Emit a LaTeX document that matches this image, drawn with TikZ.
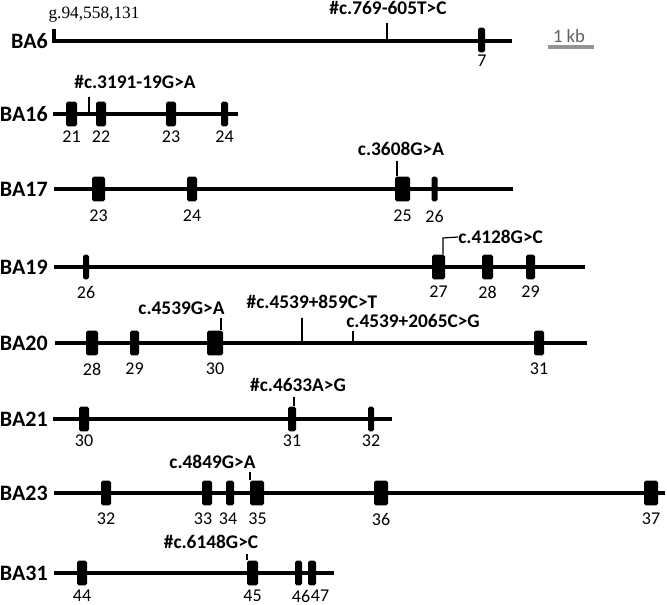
\documentclass[tikz,border=0pt]{standalone}
\usepackage{fontspec}
\setmainfont{Carlito}
\newfontfamily\gfont{Liberation Serif}
\usetikzlibrary{positioning}
\colorlet{barcol}{black!42}
\colorlet{kbcol}{black!62}

\begin{document}
\begin{tikzpicture}[x=0.75pt, y=-0.75pt,
		gene/.style={line width=2.5pt},
		mut/.style={line width=0.9pt},
		exon/.style={fill=black, rounded corners=1.2pt, inner sep=0pt, minimum height=18.5pt},
		num/.style={font=\fontsize{13.5}{16}\selectfont, inner sep=0pt},
		mlab/.style={font=\bfseries\fontsize{14.5}{16}\selectfont, inner sep=0pt},
		rowlab/.style={font=\bfseries\fontsize{16.5}{18}\selectfont, anchor=east, inner sep=0pt}]
	\useasboundingbox (0,0) rectangle (667,605);
	%\draw[step=50,gray,very thin] (0,0) grid (667,605);

	% BA6
	\coordinate (r6a) at (54,41);
	\coordinate (r6b) at (512,41);
	\draw[gene] (54,29) -- (r6a) -- (r6b);
	\node[rowlab] (l6) at (48,41) {BA6};
	\node[font=\gfont\fontsize{13}{15}\selectfont, inner sep=0pt] (g6) at (94,15) {g.94,558,131};
	\node[exon, minimum width=7*0.75pt] (r6e7) at (481.5,40) {};
	\node[num] (r6n7) at (482,61) {7};
	\coordinate (t6) at (387,23);
	\draw[mut] (t6) -- (t6 |- r6a);
	\node[mlab] (m6) at (388,8) {\#c.769-605T>C};
	% scale bar
	\coordinate (kb1) at (548,47);
	\coordinate (kb2) at (594,47);
	\draw[line width=2.3pt, barcol] (kb1) -- (kb2);
	\node[font=\fontsize{14}{16}\selectfont, text=kbcol, inner sep=0pt] (kb) at (569,36) {1 kb};

	% BA16
	\coordinate (r16a) at (53,114);
	\coordinate (r16b) at (238,114);
	\draw[gene] (r16a) -- (r16b);
	\node[rowlab] (l16) at (48,114) {BA16};
	\foreach \x/\w/\n in {71.5/11/21, 101/10/22, 171/10/23, 224.5/7/24}
	{
		\node[exon, minimum width=\w*0.75pt] (r16e\n) at (\x,114) {};
		\node[num] (r16n\n) at (\x,137) {\n};
	}
	\coordinate (t16) at (89,97);
	\draw[mut] (t16) -- (t16 |- r16a);
	\node[mlab] (m16) at (135,82) {\#c.3191-19G>A};

	% BA17
	\coordinate (r17a) at (54,189);
	\coordinate (r17b) at (513,189);
	\draw[gene] (r17a) -- (r17b);
	\node[rowlab] (l17) at (48,189) {BA17};
	\foreach \x/\w/\n in {98.5/13/23, 192/10/24, 402.5/15/25, 434.5/6/26}
	{
		\node[exon, minimum width=\w*0.75pt] (r17e\n) at (\x,189) {};
		\node[num] (r17n\n) at (\x,216) {\n};
	}
	\coordinate (t17) at (397,161);
	\draw[mut] (t17) -- (t17 |- r17e25.north);
	\node[mlab] (m17) at (401,149) {c.3608G>A};

	% BA19
	\coordinate (r19a) at (54,267);
	\coordinate (r19b) at (585,267);
	\draw[gene] (r19a) -- (r19b);
	\node[rowlab] (l19) at (48,267) {BA19};
	\foreach \x/\w/\n in {86/6/26, 438.5/13/27, 487.5/11/28, 530.5/9/29}
	{
		\node[exon, minimum width=\w*0.75pt] (r19e\n) at (\x,267) {};
		\node[num] (r19n\n) at (\x,292) {\n};
	}
	\coordinate (t19) at (443,238);
	\node[mlab, anchor=west] (m19) at (458,237) {c.4128G>C};
	\draw[mut] (t19 |- r19e27.north) -- (t19) -- (m19.west);

	% BA20
	\coordinate (r20a) at (55,343);
	\coordinate (r20b) at (587,343);
	\draw[gene] (r20a) -- (r20b);
	\node[rowlab] (l20) at (48,343) {BA20};
	\foreach \x/\w/\n in {92/12/28, 134.5/9/29, 215/16/30, 539/10/31}
	{
		\node[exon, minimum width=\w*0.75pt] (r20e\n) at (\x,343) {};
		\node[num] (r20n\n) at (\x,369) {\n};
	}
	\coordinate (t20a) at (221,318);
	\draw[mut] (t20a) -- (t20a |- r20e30.north);
	\node[mlab] (m20a) at (181.5,308) {c.4539G>A};
	\coordinate (t20b) at (302,318);
	\draw[mut] (t20b) -- (t20b |- r20a);
	\node[mlab] (m20b) at (312,302) {\#c.4539+859C>T};
	\coordinate (t20c) at (353,331);
	\draw[mut] (t20c) -- (t20c |- r20a);
	\node[mlab] (m20c) at (413,321) {c.4539+2065C>G};

	% BA21
	\coordinate (r21a) at (53,419);
	\coordinate (r21b) at (392,419);
	\draw[gene] (r21a) -- (r21b);
	\node[rowlab] (l21) at (48,419) {BA21};
	\foreach \x/\w/\n in {84/10/30, 292/8/31, 371/6/32}
	{
		\node[exon, minimum width=\w*0.75pt] (r21e\n) at (\x,419) {};
		\node[num] (r21n\n) at (\x,441) {\n};
	}
	\coordinate (t21) at (294,397);
	\draw[mut] (t21) -- (t21 |- r21e31.north);
	\node[mlab] (m21) at (298,385) {\#c.4633A>G};

	% BA23
	\coordinate (r23a) at (54,493);
	\coordinate (r23b) at (665,493);
	\draw[gene] (r23a) -- (r23b);
	\node[rowlab] (l23) at (48,493) {BA23};
	\foreach \x/\w/\n/\lx in {106/10/32/106, 207/10/33/203, 230/8/34/228, 257/14/35/257.5, 381/14/36/381, 651/14/37/651}
	{
		\node[exon, minimum width=\w*0.75pt] (r23e\n) at (\x,493) {};
		\node[num] (r23n\n) at (\lx,519) {\n};
	}
	\coordinate (t23) at (250,472);
	\draw[mut] (t23) -- (t23 |- r23e35.north);
	\node[mlab] (m23) at (212.5,462) {c.4849G>A};

	% BA31
	\coordinate (r31a) at (54,573);
	\coordinate (r31b) at (334,573);
	\draw[gene] (r31a) -- (r31b);
	\node[rowlab] (l31) at (48,573) {BA31};
	\foreach \x/\w/\n/\lx in {82/10/44/82, 252.5/11/45/252.5, 298.5/7/46/301, 312/8/47/320}
	{
		\node[exon, minimum width=\w*0.75pt] (r31e\n) at (\x,573) {};
		\node[num] (r31n\n) at (\lx,596) {\n};
	}
	\coordinate (t31) at (247,554);
	\draw[mut] (t31) -- (t31 |- r31e45.north);
	\node[mlab] (m31) at (211,542) {\#c.6148G>C};
\end{tikzpicture}
\end{document}
